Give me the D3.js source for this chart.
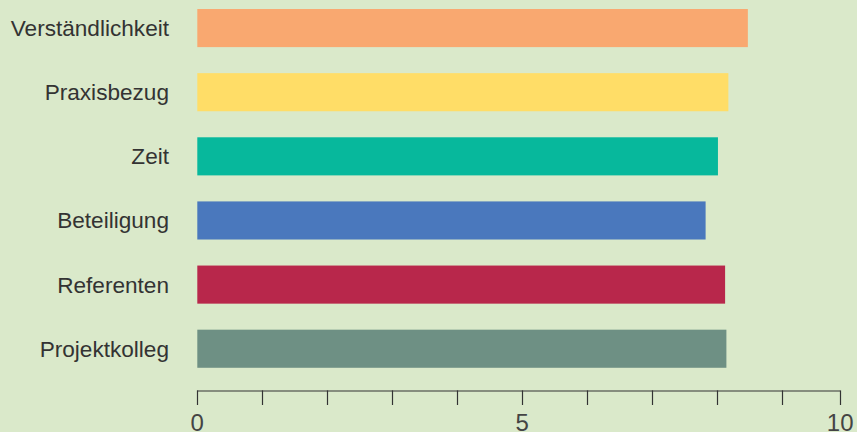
<!DOCTYPE html>
<html>
<head>
<meta charset="utf-8">
<script src="https://cdn.jsdelivr.net/npm/d3@7"></script>
<style>
  html, body { margin: 0; padding: 0; background: #dae9ca; }
  svg { display: block; }
</style>
</head>
<body>
<div id="chart"></div>
<script>
// values
const categories = ["Verständlichkeit", "Praxisbezug", "Zeit", "Beteiligung", "Referenten", "Projektkolleg"];
const values = [8.47, 8.17, 8.01, 7.82, 8.12, 8.14];
const colors = ["#f9a870", "#ffdd67", "#07b89c", "#4a78bd", "#b8274b", "#6e9084"];
const tickValues = [0, 1, 2, 3, 4, 5, 6, 7, 8, 9];
const tickLabels = {0: "0", 5: "5"};
// the last tick sits a little short of a full step in the source
const axisEnd = 9.89;
const axisEndLabel = "10";

function chart() {
    const width = 857;
    const height = 432;

    const x = d3.scaleLinear().domain([0, 10]).range([197.3, 847.3]);
    const y = d3.scaleBand()
        .domain(categories)
        .range([-4, 380.8])
        .paddingInner(0.406)
        .paddingOuter(0.203);

    const svg = d3.create("svg")
        .attr("width", width)
        .attr("height", height)
        .attr("viewBox", [0, 0, width, height])
        .attr("style", "font-family: 'Liberation Sans', Arial, Helvetica, sans-serif;");

    svg.append("rect")
        .attr("width", width)
        .attr("height", height)
        .attr("fill", "#dae9ca");

    // bars
    svg.append("g")
        .selectAll()
        .data(categories)
        .join("rect")
        .attr("x", x(0))
        .attr("y", d => y(d))
        .attr("width", (d, i) => x(values[i]) - x(0))
        .attr("height", y.bandwidth())
        .attr("fill", (d, i) => colors[i]);

    // category labels
    svg.append("g")
        .attr("fill", "#333")
        .attr("font-size", 22.6)
        .attr("text-anchor", "end")
        .selectAll()
        .data(categories)
        .join("text")
        .attr("x", 169)
        .attr("y", d => y(d) + y.bandwidth() / 2)
        .attr("dy", "0.35em")
        .text(d => d);

    // bottom axis
    const axisY = 391;
    const axis = svg.append("g")
        .attr("transform", `translate(0,${axisY})`);

    axis.append("line")
        .attr("x1", x(0))
        .attr("x2", x(axisEnd))
        .attr("stroke", "#333")
        .attr("stroke-width", 1.2);

    const ticks = tickValues.concat([axisEnd]);
    axis.selectAll(".tick")
        .data(ticks)
        .join("line")
        .attr("class", "tick")
        .attr("x1", d => Math.round(x(d)) + 0.5)
        .attr("x2", d => Math.round(x(d)) + 0.5)
        .attr("y1", -0.6)
        .attr("y2", 14)
        .attr("stroke", "#333")
        .attr("stroke-width", 1.2);

    const labelled = ticks.filter(d => d === axisEnd || tickLabels[d] !== undefined);
    axis.selectAll(".lbl")
        .data(labelled)
        .join("text")
        .attr("class", "lbl")
        .attr("x", d => x(d))
        .attr("y", 40)
        .attr("text-anchor", "middle")
        .attr("fill", "#444")
        .attr("font-size", 24)
        .text(d => d === axisEnd ? axisEndLabel : tickLabels[d]);

    return svg.node();
}

document.getElementById("chart").appendChild(chart());
</script>
</body>
</html>
